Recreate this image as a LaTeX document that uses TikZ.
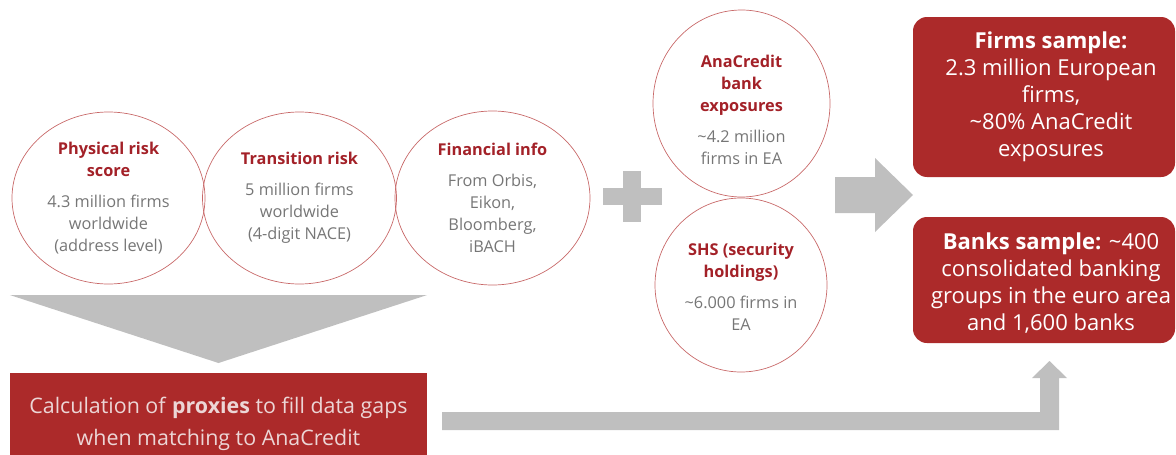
\documentclass[tikz,border=0pt]{standalone}
\usepackage{fontspec}
\setmainfont{Open Sans}
\usetikzlibrary{shapes.geometric}
\definecolor{boxred}{RGB}{172,42,42}
\definecolor{headred}{RGB}{163,33,40}
\definecolor{bodygray}{RGB}{118,118,118}
\definecolor{ringred}{RGB}{200,105,105}
\definecolor{shapegray}{RGB}{191,191,191}
\definecolor{palepink}{RGB}{236,214,214}
\newcommand{\circtext}[2]{\parbox{180pt}{\centering
  {\color{headred}\bfseries\fontsize{16.3}{22}\selectfont #1\par}\vspace{9pt}
  {\color{bodygray}\fontsize{16.3}{22}\selectfont #2\par}}}
\newcommand{\boxtext}[1]{\parbox{262pt}{\centering\fontsize{22}{27}\selectfont #1}}
\tikzset{
  ring/.style={ellipse, draw=ringred, line width=0.7pt, inner sep=0pt},
  ringtext/.style={inner sep=0pt},
  redbox/.style={fill=boxred, draw=none, rounded corners=14pt, inner sep=0pt},
  boxlabel/.style={inner sep=0pt, text=white},
  proxybox/.style={fill=boxred, draw=none, inner sep=0pt, text=palepink},
  grayshape/.style={fill=shapegray, draw=none},
}
\begin{document}
\begin{tikzpicture}[x=1pt,y=-1pt]
\useasboundingbox (0,0) rectangle (1176,455);
\clip (0,0) rectangle (1176,455);

% circles
\node[ring, minimum width=193pt, minimum height=172pt] (phys) at (108.5,198) {};
\node[ringtext] (phys-t) at (108.5,198) {\circtext{Physical risk\\score}{4.3 million firms\\worldwide\\(address level)}};
\node[ring, minimum width=194pt, minimum height=172pt] (trans) at (299.5,198) {};
\node[ringtext] (trans-t) at (299.5,198) {\circtext{Transition risk}{5 million firms\\worldwide\\(4-digit NACE)}};
\node[ring, minimum width=195pt, minimum height=174pt] (fin) at (492.5,198) {};
\node[ringtext] (fin-t) at (492.5,198) {\circtext{Financial info}{From Orbis,\\Eikon,\\Bloomberg,\\iBACH}};

\node[ring, minimum width=177pt, minimum height=187pt] (ana) at (741.5,103.5) {};
\node[ringtext] (ana-t) at (741.5,110) {\circtext{AnaCredit\\bank\\exposures}{\textasciitilde4.2 million\\firms in EA}};
\node[ring, minimum width=172pt, minimum height=174pt] (shs) at (741,285) {};
\node[ringtext] (shs-t) at (741,287) {\circtext{SHS (security\\holdings)}{\textasciitilde6.000 firms in\\EA}};

% plus sign
\fill[grayshape] (603,188) rectangle (662,205);
\fill[grayshape] (623,171) rectangle (641,222);

% output boxes
\node[redbox, minimum width=262pt, minimum height=160pt] (firms) at (1044,97) {};
\node[boxlabel] (firms-t) at ([shift={(7,0)}]firms.center)
  {\boxtext{\textbf{Firms sample:}\\2.3 million European\\firms,\\\textasciitilde80\% AnaCredit\\exposures}};
\node[redbox, minimum width=262pt, minimum height=126pt] (banks) at (1044,280) {};
\node[boxlabel] (banks-t) at ([shift={(7,3)}]banks.center)
  {\boxtext{\textbf{Banks sample:} \textasciitilde400\\consolidated banking\\groups in the euro area\\and 1,600 banks}};

% proxy box
\node[proxybox, minimum width=417pt, minimum height=102pt] (proxy) at (218.5,424)
  {\parbox{415pt}{\centering\fontsize{21.4}{32}\selectfont Calculation of \textbf{proxies} to fill data gaps\\when matching to AnaCredit}};

% chevron down from circles to proxy box
\fill[grayshape] (proxy.west |- 0,295) -- (proxy.east |- 0,295) -- (proxy.north |- 0,363) -- cycle;

% right arrow to samples
\coordinate (ra) at (835,195);
\fill[grayshape] (ra) ++(0,-18) -- ++(40,0) -- ++(0,-19) -- (913,195) -- (875,232) -- (875,213) -- (835,213) -- cycle;

% elbow arrow from proxy box to banks sample
\coordinate (ea) at (442,412);
\fill[grayshape] (ea) -- (1040,412) -- (1040,378) -- (1032,378) -- (1049.5,361) -- (1067,378) -- (1059,378) -- (1059,430) -- (442,430) -- cycle;
\end{tikzpicture}
\end{document}
